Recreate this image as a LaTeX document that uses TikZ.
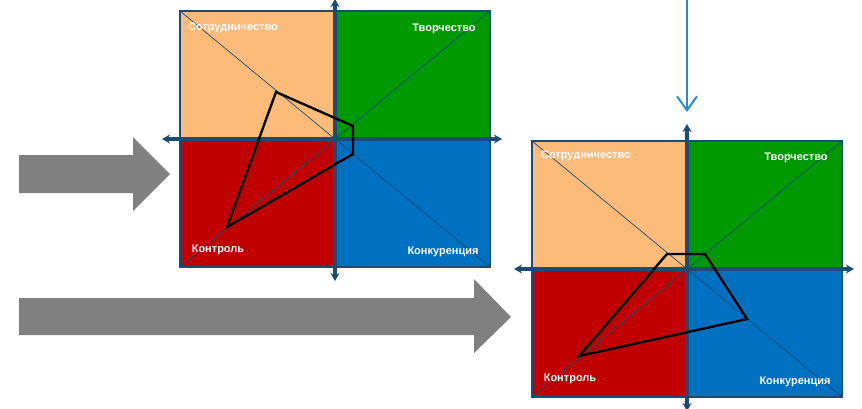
\documentclass[tikz,border=0pt]{standalone}
\usepackage{fontspec}
\setmainfont{Liberation Sans}
\usetikzlibrary{arrows.meta}

\definecolor{quadorange}{HTML}{FDBB7A}
\definecolor{quadgreen}{HTML}{009900}
\definecolor{quadred}{HTML}{C00000}
\definecolor{quadblue}{HTML}{0070C0}
\definecolor{axisblue}{HTML}{1B4B78}
\definecolor{arrowgray}{HTML}{808080}
\definecolor{flowblue}{HTML}{2E8BC4}

\tikzset{
  axis/.style={draw=axisblue, line width=3.2pt,
    {Stealth[length=8pt,width=9pt]}-{Stealth[length=8pt,width=9pt]}},
  diag/.style={draw=axisblue, line width=0.7pt},
  frame/.style={draw=axisblue, line width=2pt},
  quadlabel/.style={text=white, inner sep=0pt,
    font=\bfseries\fontsize{11}{13}\selectfont},
  profile/.style={draw=black, line width=2.4pt, line join=miter},
  bigarrow/.style={fill=arrowgray}
}

\begin{document}
\begin{tikzpicture}[x=1pt, y=-1pt]
		\useasboundingbox (0,0) rectangle (862,408);

		% gray arrows
		\fill[bigarrow] (19,155) -- (133,155) -- (133,137) -- (170,174)
		  -- (133,211) -- (133,193) -- (19,193) -- cycle;
		\fill[bigarrow] (19,298) -- (474,298) -- (474,279) -- (511,317)
		  -- (474,353) -- (474,335) -- (19,335) -- cycle;

		% first chart
		\begin{scope}[shift={(335,139)}]
		\fill[quadorange] (-155,-128) rectangle (0,0);
		\fill[quadgreen] (0,-128) rectangle (155,0);
		\fill[quadred] (-155,0) rectangle (0,128);
		\fill[quadblue] (0,0) rectangle (155,128);
		\coordinate (a-nw) at (-155,-128);
		\coordinate (a-ne) at (155,-128);
		\coordinate (a-sw) at (-155,128);
		\coordinate (a-se) at (155,128);
		\draw[diag] (a-nw) -- (a-se);
		\draw[diag] (a-ne) -- (a-sw);
		\draw[frame] (a-nw) rectangle (a-se);
		\coordinate (a-l) at (-173,0);
		\coordinate (a-r) at (167,0);
		\coordinate (a-t) at (0,-140);
		\coordinate (a-b) at (0,142);
		\draw[axis] (a-l) -- (a-r);
		\draw[axis] (a-t) -- (a-b);
		\draw[profile] (-59,-47) -- (18,-13) -- (18,15) -- (-108,88) -- cycle;
		\node[quadlabel] (a-coop) at (-102,-111) {Сотрудничество};
		\node[quadlabel] (a-creat) at (109,-110) {Творчество};
		\node[quadlabel] (a-ctrl) at (-117,111) {Контроль};
		\node[quadlabel] (a-comp) at (108,113) {Конкуренция};
		\end{scope}

		% second chart
		\begin{scope}[shift={(687,269)}]
		\fill[quadorange] (-155,-128) rectangle (0,0);
		\fill[quadgreen] (0,-128) rectangle (155,0);
		\fill[quadred] (-155,0) rectangle (0,128);
		\fill[quadblue] (0,0) rectangle (155,128);
		\coordinate (b-nw) at (-155,-128);
		\coordinate (b-ne) at (155,-128);
		\coordinate (b-sw) at (-155,128);
		\coordinate (b-se) at (155,128);
		\draw[diag] (b-nw) -- (b-se);
		\draw[diag] (b-ne) -- (b-sw);
		\draw[frame] (b-nw) rectangle (b-se);
		\coordinate (b-l) at (-173,0);
		\coordinate (b-r) at (167,0);
		\coordinate (b-t) at (0,-145);
		\coordinate (b-b) at (0,142);
		\draw[axis] (b-l) -- (b-r);
		\draw[axis] (b-t) -- (b-b);
		\draw[profile] (-20,-15) -- (18,-15) -- (60,50) -- (-108,87) -- cycle;
		\node[quadlabel] (b-coop) at (-101,-113) {Сотрудничество};
		\node[quadlabel] (b-creat) at (109,-111) {Творчество};
		\node[quadlabel] (b-ctrl) at (-117,110) {Контроль};
		\node[quadlabel] (b-comp) at (108,113) {Конкуренция};
		\end{scope}

		% flow arrow into second chart
		\coordinate (flow) at (687,0);
		\draw[flowblue, line width=2pt, -{Straight Barb[length=14pt,width=20pt]}]
		  (flow) -- (b-t |- 0,112);
\end{tikzpicture}
\end{document}
